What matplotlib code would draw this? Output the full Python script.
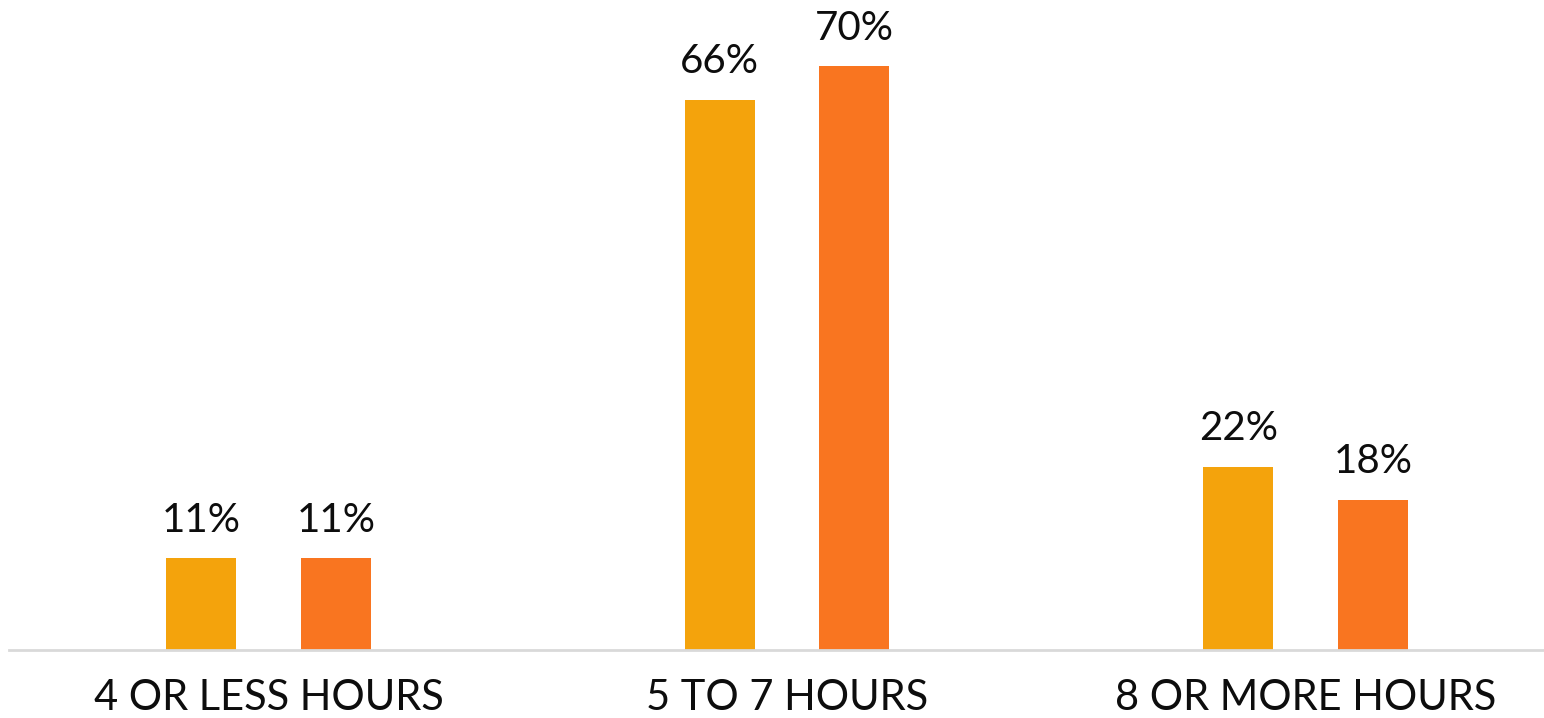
import matplotlib
matplotlib.use("Agg")
import matplotlib.pyplot as plt
import numpy as np

categories = ["4 OR LESS HOURS", "5 TO 7 HOURS", "8 OR MORE HOURS"]
series_a = [11, 66, 22]
series_b = [11, 70, 18]
color_a = "#F4A30C"
color_b = "#F97520"

W, H = 1544, 718
fig = plt.figure(figsize=(W / 100, H / 100), dpi=100)
left_px, right_px, base_px = 9, 1544, 650
ax = fig.add_axes([left_px / W, (H - base_px) / H, (right_px - left_px) / W, base_px / H])

unit = 518.5
x0 = -259.5 / unit
ax.set_xlim(x0, x0 + (right_px - left_px) / unit)
ax.set_ylim(0, base_px / 8.34)

x = np.arange(len(categories))
off = 0.1297
bw = 0.135
ba = ax.bar(x - off, series_a, bw, color=color_a)
bb = ax.bar(x + off, series_b, bw, color=color_b)

for bars, vals in ((ba, series_a), (bb, series_b)):
    for r, v in zip(bars, vals):
        ax.annotate(f"{v}%", (r.get_x() + r.get_width() / 2, v), xytext=(0, 14),
                    textcoords="offset points", ha="center", va="bottom",
                    fontsize=29, family="Lato", color="#0d0d0d")

ax.set_xticks(x)
ax.set_xticklabels(categories, fontsize=30, family="Lato", color="#0d0d0d")
ax.tick_params(axis="x", length=0, pad=21)
ax.set_yticks([])
for s in ("top", "right", "left"):
    ax.spines[s].set_visible(False)
ax.spines["bottom"].set_color("#D9D9D9")
ax.spines["bottom"].set_linewidth(2)

fig.savefig("out.png", dpi=100)
